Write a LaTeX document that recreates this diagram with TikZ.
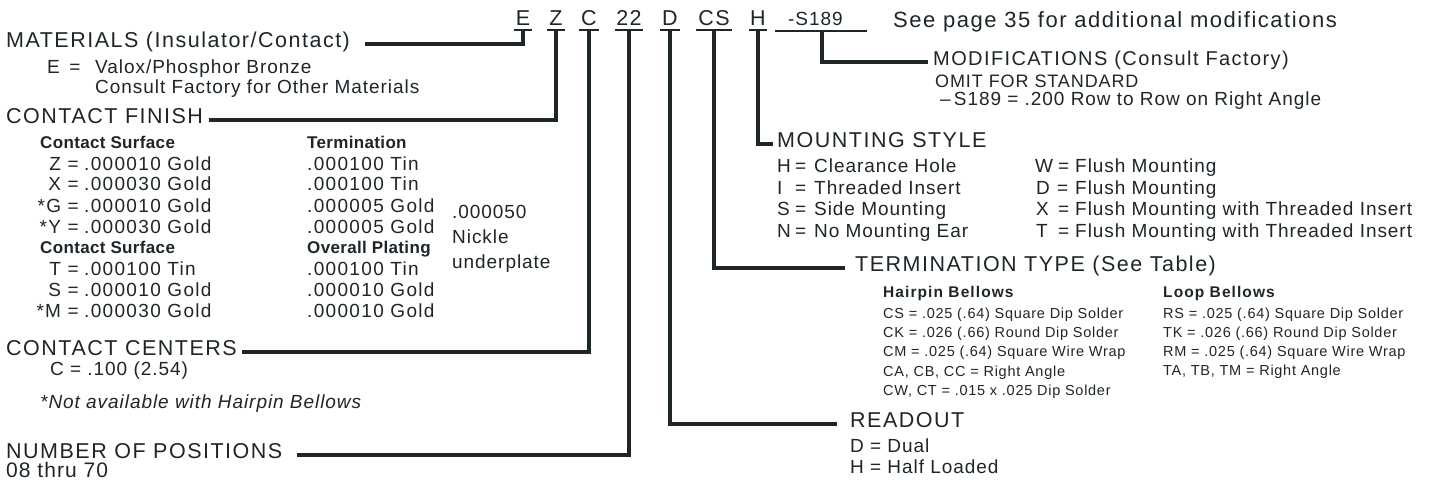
\documentclass[tikz,border=0pt]{standalone}
\usepackage{fontspec}
\setmainfont{Liberation Sans}
\newfontfamily\lsA[LetterSpace=7]{Liberation Sans}
\newfontfamily\lsB[LetterSpace=5]{Liberation Sans}
\newfontfamily\lsC[LetterSpace=2]{Liberation Sans}
\usetikzlibrary{calc}
\definecolor{ink}{RGB}{30,38,42}
\begin{document}
\begin{tikzpicture}[x=1pt,y=-1pt,
  every node/.style={inner sep=0pt,text=ink},
  hd/.style={font=\lsA\fontsize{21.5}{24}\selectfont,anchor=base west},
  hdm/.style={font=\lsA\fontsize{20}{23}\selectfont,anchor=base west},
  code/.style={font=\lsA\fontsize{21.5}{24}\selectfont,anchor=base},
  sub/.style={font=\lsB\fontsize{19}{22}\selectfont,anchor=base west},
  subit/.style={font=\lsB\fontsize{19}{22}\selectfont\itshape,anchor=base west},
  omit/.style={font=\lsB\fontsize{18}{21}\selectfont,anchor=base west},
  rowl/.style={font=\lsA\fontsize{19}{22}\selectfont,anchor=base east},
  rowv/.style={font=\lsA\fontsize{19}{22}\selectfont,anchor=base west},
  mtl/.style={font=\lsB\fontsize{19}{22}\selectfont,anchor=base west},
  mtv/.style={font=\lsB\fontsize{19}{22}\selectfont,anchor=base west},
  bhd/.style={font=\lsC\fontsize{17}{20}\selectfont\bfseries,anchor=base west},
  tbhd/.style={font=\lsA\fontsize{15.5}{18}\selectfont\bfseries,anchor=base west},
  tsm/.style={font=\lsB\fontsize{14.5}{17}\selectfont,anchor=base west},
  conn/.style={draw=ink,line width=4pt,line join=miter},
  uline/.style={draw=ink,line width=1.5pt}]
\useasboundingbox[fill=white] (0,0) rectangle (1445,493);

% ---------- code line ----------
\node[code] (cE) at (523,25) {E};
\node[code] (cZ) at (556,25) {Z};
\node[code] (cC) at (589,25) {C};
\node[code] (c22) at (629,25) {22};
\node[code] (cD) at (670,25) {D};
\node[code] (cCS) at (714,25) {CS};
\node[code] (cH) at (758,25) {H};
\node[sub,anchor=base west] (cMod) at (788,25) {-S189};
\node[hd,font=\lsA\fontsize{22}{25}\selectfont] (see) at (893,27) {See page 35 for additional modifications};

\coordinate (uE) at ([yshift=-5pt]cE.base);
\coordinate (uZ) at ([yshift=-5pt]cZ.base);
\coordinate (uC) at ([yshift=-5pt]cC.base);
\coordinate (u22) at ([yshift=-5pt]c22.base);
\coordinate (uD) at ([yshift=-5pt]cD.base);
\coordinate (uCS) at ([yshift=-5pt]cCS.base);
\coordinate (uH) at ([yshift=-5pt]cH.base);
\coordinate (uMod) at ([xshift=34pt,yshift=-6pt]cMod.base west);

\draw[uline] ([xshift=-9pt]uE) -- ([xshift=9pt]uE);
\draw[uline] ([xshift=-9pt]uZ) -- ([xshift=9pt]uZ);
\draw[uline] ([xshift=-10pt]uC) -- ([xshift=10pt]uC);
\draw[uline] ([xshift=-14pt]u22) -- ([xshift=14pt]u22);
\draw[uline] ([xshift=-10pt]uD) -- ([xshift=10pt]uD);
\draw[uline] ([xshift=-18pt]uCS) -- ([xshift=18pt]uCS);
\draw[uline] ([xshift=-9pt]uH) -- ([xshift=9pt]uH);
\draw[uline] ([xshift=-47pt]uMod) -- ([xshift=45pt]uMod);

% ---------- left column ----------
\node[hd] (hMat) at (6,47) {MATERIALS (Insulator/Contact)};
\node[sub] (mE) at (47,73) {E\hspace{0.5em}=};
\node[sub] (mV) at (95,73) {Valox/Phosphor Bronze};
\node[sub] (mC) at (95,93) {Consult Factory for Other Materials};

\node[hd] (hFin) at (6,123) {CONTACT FINISH};
\node[bhd] (csA) at (40,148) {Contact Surface};
\node[bhd] (trm) at (307,148) {Termination};
\node[rowl] (lZ) at (79,170) {Z =};
\node[rowv] (vZ) at (84,170) {.000010 Gold};
\node[rowl] (lX) at (79,190) {X =};
\node[rowv] (vX) at (84,190) {.000030 Gold};
\node[rowl] (lG) at (79,212) {*G =};
\node[rowv] (vG) at (84,212) {.000010 Gold};
\node[rowl] (lY) at (79,233) {*Y =};
\node[rowv] (vY) at (84,233) {.000030 Gold};
\node[bhd] (csB) at (40,253) {Contact Surface};
\node[rowl] (lT) at (79,275) {T =};
\node[rowv] (vT) at (84,275) {.000100 Tin};
\node[rowl] (lS) at (79,296) {S =};
\node[rowv] (vS) at (84,296) {.000010 Gold};
\node[rowl] (lM) at (79,317) {*M =};
\node[rowv] (vM) at (84,317) {.000030 Gold};

\node[rowv] (t1) at (307,170) {.000100 Tin};
\node[rowv] (t2) at (307,190) {.000100 Tin};
\node[rowv] (t3) at (307,212) {.000005 Gold};
\node[rowv] (t4) at (307,233) {.000005 Gold};
\node[bhd] (ovp) at (307,253) {Overall Plating};
\node[rowv] (t5) at (307,275) {.000100 Tin};
\node[rowv] (t6) at (307,296) {.000010 Gold};
\node[rowv] (t7) at (307,317) {.000010 Gold};

\node[sub] (n1) at (452,218) {.000050};
\node[sub] (n2) at (452,243) {Nickle};
\node[sub] (n3) at (452,268) {underplate};

\node[hd] (hCen) at (6,355) {CONTACT CENTERS};
\node[sub] (cc) at (50,375) {C = .100 (2.54)};
\node[subit] (na) at (40,408) {*Not available with Hairpin Bellows};
\node[hd] (hNum) at (6,458) {NUMBER OF POSITIONS};
\node[sub,font=\lsB\fontsize{21}{24}\selectfont] (np) at (6,477) {08 thru 70};

% ---------- right side ----------
\node[hdm] (hMod) at (933,65) {MODIFICATIONS (Consult Factory)};
\node[omit] (om) at (935,87) {OMIT FOR STANDARD};
\node[sub] (sm) at (940,105) {\textendash\,S189 = .200 Row to Row on Right Angle};

\node[hd] (hMount) at (777,147) {MOUNTING STYLE};
\node[mtl] (mH) at (777,172) {\makebox[18pt][l]{H}=};
\node[mtv] (vH) at (814,172) {Clearance Hole};
\node[mtl] (mI) at (777,194) {\makebox[18pt][l]{I}=};
\node[mtv] (vI) at (814,194) {Threaded Insert};
\node[mtl] (mS) at (777,215) {\makebox[18pt][l]{S}=};
\node[mtv] (vS2) at (814,215) {Side Mounting};
\node[mtl] (mN) at (777,237) {\makebox[18pt][l]{N}=};
\node[mtv] (vN) at (814,237) {No Mounting Ear};
\node[mtl] (mW) at (1035,172) {\makebox[23pt][l]{W}=};
\node[mtv] (vW) at (1075,172) {Flush Mounting};
\node[mtl] (mD) at (1036,194) {\makebox[21pt][l]{D}=};
\node[mtv] (vD) at (1075,194) {Flush Mounting};
\node[mtl] (mX) at (1036,215) {\makebox[22pt][l]{X}=};
\node[mtv] (vX2) at (1075,215) {Flush Mounting with Threaded Insert};
\node[mtl] (mT) at (1036,237) {\makebox[22pt][l]{T}=};
\node[mtv] (vT2) at (1075,237) {Flush Mounting with Threaded Insert};

\node[hd] (hTerm) at (855,271) {TERMINATION TYPE (See Table)};
\node[tbhd] (hp) at (883,297) {Hairpin Bellows};
\node[tbhd] (lp) at (1163,297) {Loop Bellows};
\node[tsm] (h1) at (883,318) {CS = .025 (.64) Square Dip Solder};
\node[tsm] (h2) at (883,337) {CK = .026 (.66) Round Dip Solder};
\node[tsm] (h3) at (883,356) {CM = .025 (.64) Square Wire Wrap};
\node[tsm] (h4) at (883,376) {CA, CB, CC = Right Angle};
\node[tsm] (h5) at (883,395) {CW, CT = .015 x .025 Dip Solder};
\node[tsm] (l1) at (1163,318) {RS = .025 (.64) Square Dip Solder};
\node[tsm] (l2) at (1163,337) {TK = .026 (.66) Round Dip Solder};
\node[tsm] (l3) at (1163,356) {RM = .025 (.64) Square Wire Wrap};
\node[tsm] (l4) at (1163,375) {TA, TB, TM = Right Angle};

\node[hd] (hRead) at (850,427) {READOUT};
\node[sub] (rD) at (850,452) {D = Dual};
\node[sub] (rH) at (850,473) {H = Half Loaded};

% ---------- connectors ----------
\draw[conn] (uE) |- ([xshift=15pt]hMat.mid east);
\draw[conn] (uZ) |- ([xshift=6pt]hFin.mid east);
\draw[conn] (uC) |- ([xshift=5pt]hCen.mid east);
\draw[conn] (u22) |- ([xshift=14pt]hNum.mid east);
\draw[conn] (uD) |- ([xshift=-13pt]hRead.mid west);
\draw[conn] (uCS) |- ([xshift=-10pt]hTerm.mid west);
\draw[conn] (uH) |- ([xshift=-4pt]hMount.mid west);
\draw[conn] (uMod) |- ([xshift=-5pt]hMod.mid west);
\end{tikzpicture}
\end{document}
